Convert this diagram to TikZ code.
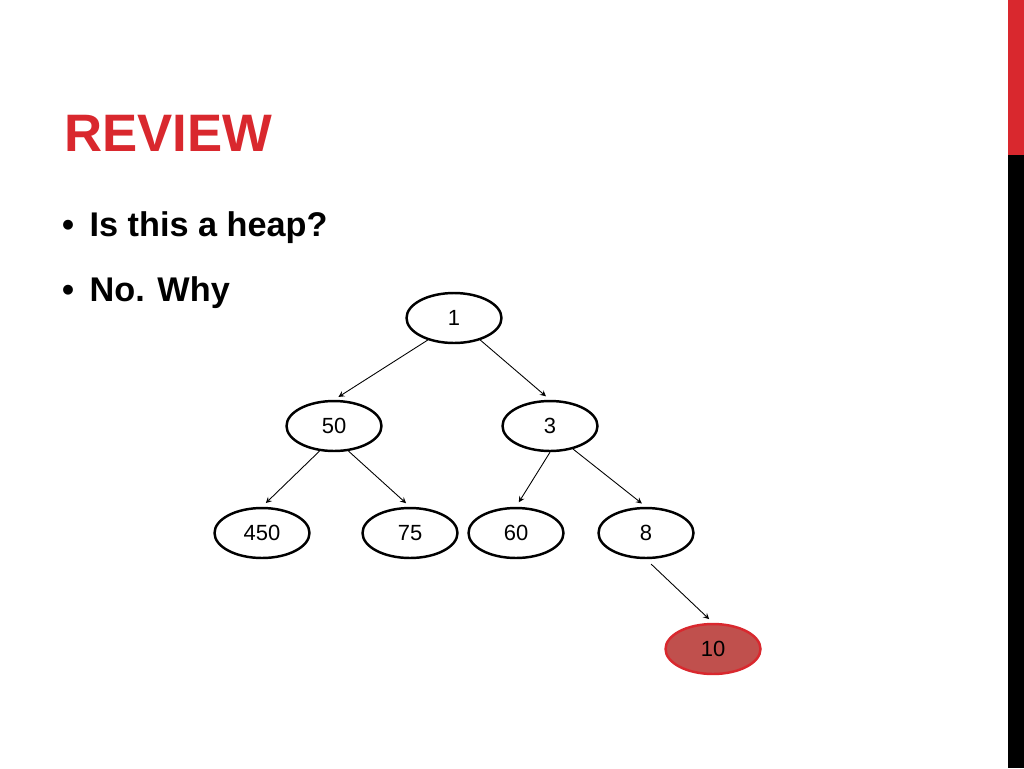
\documentclass[tikz,border=0pt]{standalone}
\usepackage{fontspec}
\setmainfont{Liberation Sans}
\usetikzlibrary{shapes.geometric}
\definecolor{slidered}{HTML}{D9282E}
\definecolor{hotnode}{HTML}{C0504D}
\tikzset{
  heapnode/.style={ellipse, draw=black, line width=1.4pt, fill=white,
    minimum width=1.9cm, minimum height=1.0cm, font=\fontsize{12.5}{14}\selectfont},
  heaparrow/.style={->, >=stealth, line width=0.5pt}
}
\begin{document}
\begin{tikzpicture}[x=0.02cm, y=-0.02cm]
  \useasboundingbox (0,0) rectangle (1024,768);
  \fill[white] (0,0) rectangle (1024,768);
  % side bar
  \fill[slidered] (1008,0) rectangle (1024,155);
  \fill[black] (1008,155) rectangle (1024,768);
  % title and bullets
  \node[anchor=west, text=slidered, font=\fontsize{30}{34}\selectfont\bfseries] (title) at (58,133) {REVIEW};
  \node[anchor=west, font=\fontsize{19.5}{22}\selectfont\bfseries] (q1) at (56,228) {\textbullet\hspace{0.45em}Is this a heap?};
  \node[anchor=west, font=\fontsize{19.5}{22}\selectfont\bfseries] (q2) at (56,293) {\textbullet\hspace{0.45em}No. Why};
  % tree
  \node[heapnode] (n1) at (454,318) {1};
  \node[heapnode] (n50) at (334,426) {50};
  \node[heapnode] (n3) at (550,426) {3};
  \node[heapnode] (n450) at (262,533) {450};
  \node[heapnode] (n75) at (410,533) {75};
  \node[heapnode] (n60) at (516,533) {60};
  \node[heapnode] (n8) at (646,533) {8};
  \node[heapnode, fill=hotnode, draw=slidered] (n10) at (713,649) {10};
  \draw[heaparrow, shorten >=3pt] (n1.220) -- (n50.north);
  \draw[heaparrow, shorten >=3pt] (n1.-40) -- (n3.north);
  \draw[heaparrow, shorten >=3pt] (n50.240) -- (n450.north);
  \draw[heaparrow, shorten >=3pt] (n50.-60) -- (n75.north);
  \draw[heaparrow, shorten >=3pt] (n3.south) -- (n60.north);
  \draw[heaparrow, shorten >=3pt] (n3.-45) -- (n8.north);
  \draw[heaparrow, shorten >=3pt, shorten <=4pt] (n8.south) -- (n10.north);
\end{tikzpicture}
\end{document}
